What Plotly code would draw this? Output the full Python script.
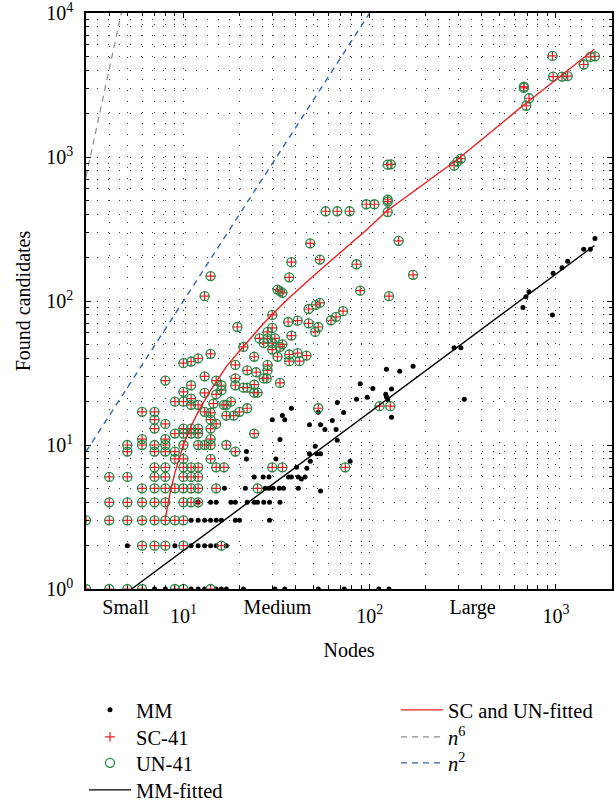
import math
import plotly.graph_objects as go

FONT = "Liberation Serif"

# ---------------- data ----------------
# MM: (nodes, found candidates)
mm_points = [
    (7, 1), (8, 1), (11, 1), (12, 1), (13, 1), (15, 1), (16, 1), (17, 1), (21, 1), (31, 1),
    (35, 1), (53, 1), (73, 1), (112, 1), (127, 1),
    (5, 2), (9, 2), (11, 2), (12, 2), (13, 2), (14, 2), (15, 2), (17, 2),
    (11, 3), (12, 3), (13, 3), (14, 3), (15, 3), (16, 3), (19, 3), (20, 3), (29, 3),
    (12, 4), (14, 4), (15, 4), (18, 4), (19, 4), (22, 4), (24, 4), (25, 4), (27, 4), (29, 4), (33, 4),
    (16.6, 5), (21.5, 5), (27.5, 5), (28.8, 5), (30.3, 5), (32.7, 5), (34.5, 5), (41.4, 5), (54.5, 4.8),
    (24, 6), (26.8, 6), (28.8, 6), (36.7, 6), (38, 6), (41.4, 6), (43, 5.8), (45, 6),
    (40.5, 7), (46, 6.9),
    (21.8, 8), (31.4, 8), (48, 7.7), (78.5, 7.7),
    (21.8, 9), (47.5, 8.7), (52, 8.7), (54.5, 8.7),
    (33, 10.9), (51, 9.8), (67, 10.8), (30, 15), (34, 16), (35, 15), (38, 18),
    (47.5, 13.8), (54.5, 13.8), (63, 14.8), (57.5, 12.8), (66, 12.8), (53, 16.9),
    (67, 19.7), (72.5, 16.8), (85, 20.8), (89, 26.6), (97, 21.5), (104, 24.7),
    (122, 22.5), (123, 21.6), (125, 20.6), (123, 33.6), (131, 24.5), (131, 15.6),
    (145, 32.5), (171, 35.3), (284, 47.4), (309, 47.4), (322, 20.8),
    (665, 90), (690, 107), (717, 116), (958, 80), (966, 156), (1078, 170),
    (1156, 189), (1410, 229), (1530, 229), (1620, 272),
]

# SC-41 (UN-41 found the same candidates)
sc_points = [
    (3, 1), (4, 1), (5, 1), (6, 1), (9, 1), (10, 1), (14, 1),
    (6, 2), (7, 2), (8, 2), (10, 2), (16, 2),
    (3, 3), (4, 3), (5, 3), (6, 3), (7, 3), (8, 3), (9, 3), (10, 3),
    (4, 4), (5, 4), (6, 4), (7, 4), (8, 4), (10, 4), (11, 4), (12, 4),
    (6, 5), (7, 5), (8, 5), (9, 5), (10, 5), (11, 5), (12, 5), (15, 5), (25, 5),
    (4, 6), (5, 6), (7, 6), (8, 6), (10, 6), (11, 6), (12, 6),
    (7, 7), (8, 7), (10, 7), (11, 7), (12, 7), (15, 7), (16.5, 7), (30, 7), (34, 7), (74, 7),
    (9, 8), (10, 8), (14, 8),
    (5, 9), (7, 9), (8, 9), (9, 9), (19, 9),
    (5, 10), (6, 10), (7, 10), (8, 10), (10, 10), (12, 10), (13, 10), (14, 10), (17, 10),
    (6, 11), (6, 17), (7, 13), (7, 15), (7, 17), (8, 11), (8, 14), (8, 28), (9, 12), (9, 20),
    (10, 12), (10, 13), (10, 20), (10, 23.4), (10, 37), (11, 12), (11, 13), (11, 19), (11, 21),
    (11, 26), (11, 38), (12, 12), (12, 13), (12, 19), (12, 40), (13, 17), (13, 23), (13, 30),
    (13, 108), (14, 11), (14, 13), (14, 15), (14, 16.7), (14, 43), (14, 149), (14.5, 19.4),
    (15, 14), (15, 22.5), (15, 28), (16, 24), (16, 26), (16.5, 19), (17, 16), (17, 19),
    (18, 20), (18.6, 16), (19, 26), (19, 29), (19, 36), (19.5, 66), (20, 17),
    (21, 25), (22, 25), (24, 26.3), (24, 23.1), (25, 23.1), (22, 18), (22, 33), (24.6, 32),
    (28.3, 33), (28.3, 36), (27, 29), (28, 29), (33, 27), (24, 41), (24, 12), (21, 48),
    (27, 51), (30, 51), (30, 46), (33, 48), (34, 50), (32, 41), (37, 42.5), (41, 43.5),
    (45.8, 41.8), (37, 38.2), (42, 38.2), (25.6, 55), (28.3, 61), (28.3, 55), (31, 55),
    (38, 57.5), (51, 61), (53, 66), (62, 73.5), (66, 77.6), (72, 85), (47, 70), (36.5, 71.5),
    (41, 73), (30, 80), (30, 65), (47, 88), (51.5, 94), (54, 97), (33, 117), (32, 120),
    (34, 114), (89, 118), (127, 108), (37, 146), (38, 186), (48, 251), (54, 194),
    (58, 420), (67, 420), (78, 420), (96, 470), (106, 470), (125, 490), (125, 505),
    (125, 415), (125, 885), (130, 890), (85, 180), (143, 262), (171, 152),
    (53, 18), (113, 18.6), (129, 18.6), (284, 870), (296, 930), (309, 975),
    (673, 3020), (673, 3080), (717, 2560), (693, 2270), (958, 5040), (966, 3620),
    (1078, 3620), (1156, 3650), (1410, 4390), (1530, 4960), (1620, 5000),
]
un_points = list(sc_points)

# fitted curves
mm_fit_x = [5.27, 1610]
mm_fit_y = [1, 243]
sc_fit_x = [8, 8.5, 9, 9.5, 10, 11, 12, 14, 17, 20, 27, 36, 50, 97, 123, 296, 659, 1610]
sc_fit_y = [3.1, 4.7, 6.4, 8.2, 10, 13.5, 17, 24, 35, 45, 70, 102, 150, 315, 420, 960, 2250, 5600]
n6_x = [3, 5]
n6_y = [729, 15625]
n2_x = [3, 100]
n2_y = [9, 10000]

# axis ticks
x_major = [10, 100, 1000]
x_major_text = ["10<sup>1</sup>", "10<sup>2</sup>", "10<sup>3</sup>"]
x_minor = [3, 4, 5, 6, 7, 8, 9, 20, 30, 40, 50, 60, 70, 80, 90,
           200, 300, 400, 500, 600, 700, 800, 900, 2000]
x_class_vals = [4.9, 32, 357]
x_class_text = ["Small", "Medium", "Large"]
y_major = [1, 10, 100, 1000, 10000]
y_major_text = ["10<sup>0</sup>", "10<sup>1</sup>", "10<sup>2</sup>", "10<sup>3</sup>", "10<sup>4</sup>"]
y_minor = [2, 3, 4, 5, 6, 7, 8, 9, 20, 30, 40, 50, 60, 70, 80, 90,
           200, 300, 400, 500, 600, 700, 800, 900, 2000, 3000, 4000, 5000, 6000, 7000, 8000, 9000]

# ---------------- figure ----------------
RED = "#ee1c24"
GREEN = "#1f8a45"
BLUE = "#3b5eb0"
GRAY = "#8c8c8c"

fig = go.Figure()
fig.add_trace(go.Scatter(
    x=[p[0] for p in mm_points], y=[p[1] for p in mm_points], mode="markers", name="MM",
    marker=dict(symbol="circle", size=5, color="black"), legend="legend"))
fig.add_trace(go.Scatter(
    x=[p[0] for p in sc_points], y=[p[1] for p in sc_points], mode="markers", name="SC-41",
    marker=dict(symbol="cross-thin-open", size=7, line=dict(color=RED, width=1.2), color=RED),
    legend="legend2"))
fig.add_trace(go.Scatter(
    x=[p[0] for p in un_points], y=[p[1] for p in un_points], mode="markers", name="UN-41",
    marker=dict(symbol="circle-open", size=9, line=dict(color=GREEN, width=1.3), color=GREEN),
    legend="legend3"))
fig.add_trace(go.Scatter(
    x=mm_fit_x, y=mm_fit_y, mode="lines", name="MM-fitted",
    line=dict(color="black", width=1.4), legend="legend4"))
fig.add_trace(go.Scatter(
    x=sc_fit_x, y=sc_fit_y, mode="lines", name="SC and UN-fitted",
    line=dict(color=RED, width=1.4), legend="legend5"))
fig.add_trace(go.Scatter(
    x=n6_x, y=n6_y, mode="lines", name="<i>n</i><sup>6</sup>",
    line=dict(color=GRAY, width=1.2, dash="6px,5px"), legend="legend6"))
fig.add_trace(go.Scatter(
    x=n2_x, y=n2_y, mode="lines", name="<i>n</i><sup>2</sup>", xaxis="x2",
    line=dict(color=BLUE, width=1.4, dash="6px,5px"), legend="legend7"))

xr = [math.log10(3), math.log10(2000)]
grid_dash = "1px,10px"
grid_col = "rgba(0,0,0,0.75)"
tickfont = dict(family=FONT, size=20, color="black")


def leg(x, y):
    return dict(x=x, y=y, xanchor="left", yanchor="middle", orientation="v",
                font=dict(family=FONT, size=20.5, color="black"), itemwidth=42,
                tracegroupgap=0, bgcolor="rgba(0,0,0,0)", borderwidth=0)


LX1, LX2 = -0.0038, 0.5894
ROWS = [-0.2101, -0.2569, -0.3021, -0.3490]

fig.update_layout(
    width=616, height=805,
    margin=dict(l=86, r=4, t=13, b=216, autoexpand=False),
    paper_bgcolor="white", plot_bgcolor="white",
    font=dict(family=FONT, size=20, color="black"),
    showlegend=True,
    xaxis=dict(
        type="log", range=xr, tickmode="array", tickvals=x_major, ticktext=x_major_text,
        ticks="inside", ticklen=5, tickwidth=1, tickcolor="black",
        showline=True, linecolor="black", linewidth=1.6, mirror="ticks",
        showgrid=True, gridcolor=grid_col, gridwidth=1, griddash=grid_dash, zeroline=False,
        minor=dict(tickmode="array", tickvals=x_minor, ticks="inside", ticklen=3,
                   tickcolor="black", showgrid=True, gridcolor=grid_col, griddash=grid_dash),
        tickfont=tickfont, ticklabelstandoff=8, ticklabeloverflow="allow",
        title=dict(text="Nodes", font=dict(family=FONT, size=20), standoff=17),
        automargin=False,
    ),
    xaxis2=dict(
        type="log", range=xr, overlaying="x", anchor="y", side="bottom",
        tickmode="array", tickvals=x_class_vals, ticktext=x_class_text,
        ticks="", showgrid=False, showline=False, zeroline=False,
        tickfont=tickfont, ticklabelstandoff=4, ticklabeloverflow="allow", automargin=False,
    ),
    yaxis=dict(
        type="log", range=[0, 4.0002], tickmode="array", tickvals=y_major, ticktext=y_major_text,
        ticks="inside", ticklen=5, tickwidth=1, tickcolor="black",
        showline=True, linecolor="black", linewidth=1.6, mirror="ticks",
        showgrid=True, gridcolor=grid_col, gridwidth=1, griddash=grid_dash, zeroline=False,
        minor=dict(tickmode="array", tickvals=y_minor, ticks="inside", ticklen=3,
                   tickcolor="black", showgrid=True, gridcolor=grid_col, griddash=grid_dash),
        tickfont=tickfont, ticklabelstandoff=7, ticklabeloverflow="allow",
        title=dict(text="Found candidates", font=dict(family=FONT, size=20), standoff=10),
        automargin=False,
    ),
    legend=leg(LX1, ROWS[0]),
    legend2=leg(LX1, ROWS[1]),
    legend3=leg(LX1, ROWS[2]),
    legend4=leg(LX1, ROWS[3]),
    legend5=leg(LX2, ROWS[0]),
    legend6=leg(LX2, ROWS[1]),
    legend7=leg(LX2, ROWS[2]),
)

fig.write_html("out.html", config={"displayModeBar": False},
               post_script="document.body.style.margin='0';")
